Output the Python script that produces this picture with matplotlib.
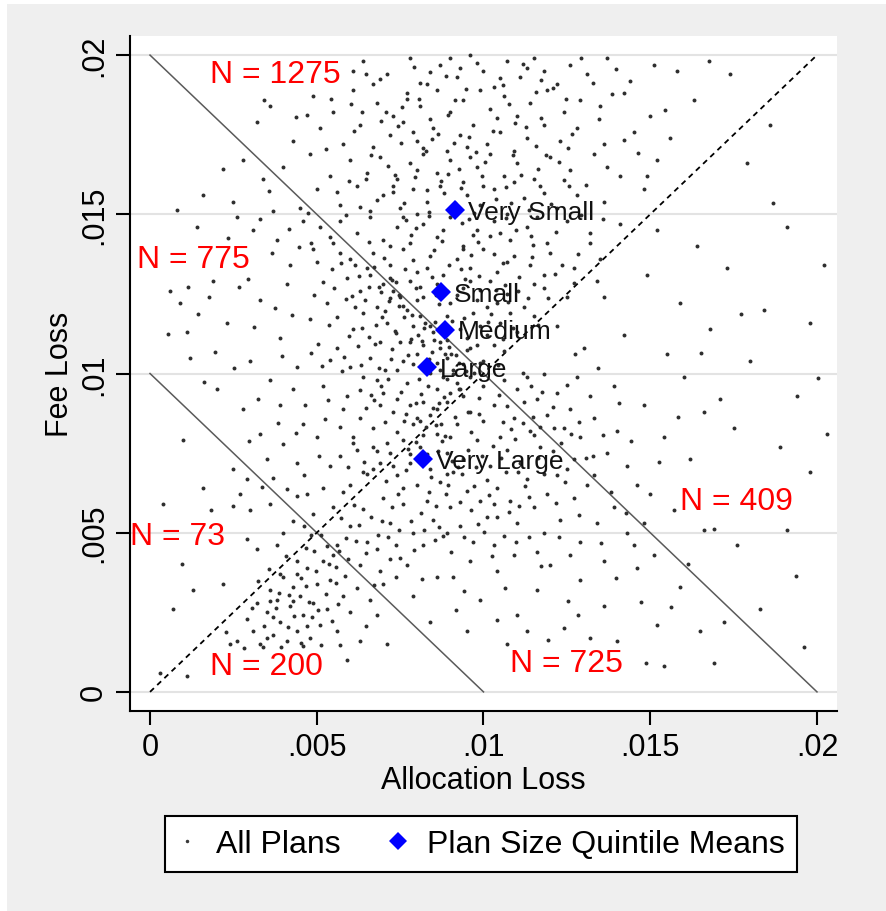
import numpy as np
import matplotlib.pyplot as plt
from matplotlib.patches import Rectangle
from matplotlib.lines import Line2D

plt.rcParams['font.family'] = ['Liberation Sans', 'DejaVu Sans']

# plan points in thousandths (x = allocation loss, y = fee loss)
# above both lines, above the 45 degree line
region_e = [(6.1,19.5),(6.7,19.1),(6.4,19.8),(7.1,19.4),(7.8,19.9),(8.3,19.1),(8.7,19.7),(9.2,19.3),(9.6,20.0),(10.0,19.5),
            (10.3,19.0),(10.7,19.8),(11.1,19.3),(11.5,19.9),(11.8,19.5),(12.2,19.1),(12.6,19.7),(13.1,19.4),(13.7,19.9),(14.4,19.2),
            (15.1,19.7),(15.8,19.5),(17.4,19.4),(9.0,19.9),(11.3,19.6),
            (3.6,18.4),(4.9,18.7),(5.5,18.2),(6.1,18.9),(6.8,18.5),(7.3,18.1),(7.7,18.8),(8.1,18.4),(8.6,18.9),(9.0,18.2),
            (9.4,18.6),(9.9,18.9),(10.2,18.3),(10.6,18.7),(11.0,18.1),(11.4,18.5),(11.9,18.9),(12.4,18.2),(12.9,18.6),(13.5,18.4),
            (14.2,18.8),(15.0,18.1),(16.3,18.6),(8.4,18.0),
            (3.2,17.9),(4.3,17.3),(5.1,17.7),(5.8,17.2),(6.3,17.8),(6.7,17.1),(7.2,17.5),(7.6,17.9),(8.0,17.3),(8.5,17.7),
            (8.9,17.0),(9.3,17.5),(9.7,17.8),(10.1,17.2),(10.5,17.6),(10.9,17.0),(11.3,17.4),(11.8,17.8),(12.3,17.3),(12.8,17.7),
            (13.6,17.2),(14.5,17.6),(15.6,17.4),(7.9,17.6),(9.5,17.1),
            (4.0,16.5),(4.8,16.9),(5.4,16.2),(6.0,16.7),(6.5,16.3),(6.9,16.8),(7.4,16.1),(7.8,16.6),(8.2,16.9),(8.6,16.3),
            (9.0,16.7),(9.4,16.0),(9.8,16.5),(10.2,16.9),(10.6,16.2),(11.0,16.6),(11.5,16.1),(12.0,16.8),(12.6,16.4),(13.3,16.9),
            (14.1,16.2),(15.2,16.7),(8.0,16.4),(9.6,16.8),(10.9,16.0),
            (5.0,15.8),(5.7,15.3),(6.2,15.9),(6.6,15.1),(7.0,15.6),(7.5,15.2),(7.9,15.8),(8.3,15.4),(8.7,15.9),(9.1,15.1),
            (9.5,15.6),(9.9,15.3),(10.3,15.8),(10.7,15.0),(11.2,15.5),(11.7,15.9),(12.2,15.2),(12.8,15.6),(13.6,15.4),(14.8,15.8),
            (8.0,15.0),(10.0,15.9),(7.3,15.9),
            (5.7,14.8),(6.2,14.4),(6.6,14.9),(7.0,14.2),(7.4,14.6),(7.8,14.1),(8.2,14.7),(8.6,14.3),(9.0,14.9),(9.4,14.0),
            (9.8,14.5),(10.3,14.8),(10.8,14.2),(11.3,14.6),(11.9,14.1),(12.5,14.8),(13.2,14.4),(14.1,14.7),(8.8,14.5),(10.5,14.4),
            (7.6,14.9),(11.6,14.9),
            (6.7,13.8),(7.2,13.4),(7.6,13.9),(8.0,13.2),(8.4,13.7),(8.8,13.1),(9.2,13.6),(9.6,13.3),(10.0,13.9),(10.4,13.2),
            (10.9,13.7),(11.4,13.4),(12.0,13.8),(12.7,13.3),(13.5,13.6),(9.4,13.9),(10.7,13.5),(8.3,13.3),(11.8,13.1),
            (7.8,12.9),(8.2,12.4),(8.6,12.8),(9.0,12.2),(9.4,12.7),(9.8,12.3),(10.2,12.9),(10.7,12.5),(11.2,12.1),(11.8,12.7),
            (12.5,12.4),(9.6,12.9),(10.4,12.2),(8.9,12.6),(11.5,12.8),
            (8.9,11.8),(9.3,11.4),(9.7,11.9),(10.1,11.2),(10.5,11.6),(11.0,11.3),(11.5,11.8),(9.9,11.5),(10.8,11.9),(9.5,11.1),
            (9.6,10.8),(10.0,10.4),(10.3,10.9),(10.6,10.7),(9.8,10.9),
            (6.37,18.22),(7.91,19.63),(10.48,19.27),(12.93,19.92),(8.06,18.61),(11.72,18.04),(9.58,17.43),(7.14,16.52),(12.41,16.08),(8.83,15.67),
            (10.19,14.31),(11.07,13.02),(9.21,12.48),(10.87,11.42),(7.43,17.78),(6.82,15.46),(9.97,16.21),(11.36,15.12),(8.52,13.89),(10.63,12.77),
            (5.28,17.06),(13.84,18.77),(7.66,13.27),(9.05,11.64),(12.18,14.43),(8.27,16.98),(10.94,17.87),(6.58,14.13),(11.94,12.36),(9.73,15.04),
            (4.72,18.12),(8.41,19.48),(10.76,18.46),(12.66,17.52),(7.29,15.71),(9.36,14.72),(11.49,14.05),(8.96,13.41),(10.21,11.87),(13.07,15.93),
            (5.96,16.04),(7.84,14.36),(9.12,17.24),(11.63,16.43),(6.13,17.61),(10.37,15.48),(8.68,12.19),(12.83,13.74),(9.89,12.62),(7.57,18.37),
            (14.63,16.92),(13.29,19.12),(6.91,19.24),(11.18,19.71),(9.47,18.92),(8.19,17.09),(10.04,16.64),(12.02,15.33),(7.02,13.63),(9.63,13.73),
            (11.02,12.58),(8.37,14.94),(10.58,13.47),(9.26,16.43),(12.47,18.61),(5.43,18.63),(6.64,16.87),(8.94,18.13),(10.89,16.86),(11.57,17.16),
            (13.46,17.98),(7.34,16.23),(9.83,14.13),(8.58,12.47),(10.31,13.76),(11.81,15.67),(6.29,15.22),(7.98,14.56),(9.44,12.96),(10.66,14.88),
            (12.91,14.97),(14.22,17.33),(8.11,19.12),(9.81,19.74),(11.58,18.83),(6.02,18.45),(7.52,17.24),(10.27,17.61),(12.27,16.65),(8.73,16.04),
            (9.16,15.37),(11.44,13.67),(10.09,12.09),(8.46,13.04),(7.19,14.02),(13.71,16.47),(5.87,14.97),(12.72,12.84),(9.52,10.73),(10.44,10.26),
            (6.48,19.41),(8.88,19.34),(12.08,18.97),(13.98,19.56),(7.71,18.63),(10.57,19.06),(9.14,18.59),(11.27,17.73),(8.64,17.52),(6.94,17.93),
            (10.68,15.86),(9.33,15.82),(11.86,16.87),(7.62,15.37),(8.31,15.77),(12.57,15.88),(9.68,14.34),(10.98,14.51),(7.88,13.57),(11.33,12.37),
            (9.41,11.73),(10.14,11.63),(8.77,14.17),(12.36,13.42),(13.19,14.09),(6.73,13.33),(5.62,15.69),(4.38,18.06),(3.41,18.6),(15.43,18.29),
            (16.76,19.81),(14.91,16.21),(13.57,14.86),(9.86,13.07),(10.72,12.24),(8.09,12.71),(11.62,11.51),(9.91,10.32),(7.27,12.93),(8.54,11.63),
            (10.36,12.63),(9.57,14.86),(8.93,16.28),(10.82,15.37),(7.96,16.18),(11.41,14.32),(9.34,13.28),(10.57,11.08),(8.36,15.08),(12.14,13.11),
            (7.67,14.83),(6.47,16.12),(11.12,16.24),(9.77,16.97),(8.47,17.36),(10.41,18.04),(12.53,17.07),(7.08,18.21),(9.29,19.58),(11.73,19.22)]

# above both lines, below the 45 degree line
region_f = [(10.6,9.8),(11.0,9.5),(11.3,9.9),(11.6,9.2),(11.9,8.7),(12.2,9.4),(12.6,8.9),(12.9,8.0),(13.3,8.6),(13.7,7.5),
            (12.4,8.3),(11.8,10.0),(12.8,9.9),(13.2,9.3),(14.0,8.2),(14.3,7.1),(14.6,6.5),(15.0,6.2),(13.9,9.6),(14.8,9.0),
            (12.2,11.5),(13.0,10.8),(13.6,12.4),(14.2,11.2),(14.9,13.1),(15.5,10.6),(15.9,12.2),(16.4,14.0),(16.8,11.4),(17.3,13.3),
            (17.9,16.6),(18.4,12.0),(19.1,14.6),(19.8,11.6),(20.2,13.4),(15.2,14.5),(13.4,12.9),(18.6,17.8),
            (15.7,5.7),(16.2,7.3),(17.1,9.2),(17.5,8.3),(18.9,7.7),(19.8,6.9),(19.1,5.1),(17.6,4.6),(18.3,2.6),(16.6,8.8),
            (15.4,8.0),(16.0,9.9),(18.0,10.4),(19.4,9.3),(20.3,8.1),(16.6,5.1),(19.6,1.4),
            (11.43,9.62),(12.07,8.96),(12.87,8.47),(13.58,8.07),(11.76,9.41),(12.51,9.63),(13.08,7.36),(14.43,7.87),(13.42,10.17),(12.74,10.61),
            (15.27,7.23),(14.06,9.07),(11.17,10.03),(15.84,8.63),(16.53,10.64),(17.73,11.87),(18.67,15.36),(20.04,9.87),(19.36,3.64),(16.91,5.12)]

# between the lines, above the 45 degree line
region_c = [(1.4,14.6),(1.6,15.6),(2.5,15.4),(3.1,14.5),(3.8,14.2),(3.7,15.1),(3.4,16.1),(2.8,16.7),(0.9,12.2),(1.9,12.9),
            (2.3,11.6),(1.2,10.5),(0.6,12.6),(4.5,15.2),(4.2,13.4),
            (3.0,10.4),(3.3,12.3),(3.6,9.8),(3.9,11.1),(4.1,12.8),(4.4,10.2),(4.6,8.4),(4.8,11.7),(5.0,13.5),(5.2,9.6),
            (5.3,12.2),(5.5,14.1),(5.6,10.8),(5.8,8.9),(5.9,13.0),(6.1,11.4),(6.2,7.6),(6.3,12.6),(6.4,9.9),(6.5,13.3),
            (4.0,7.8),(4.7,6.2),(5.4,7.1),(3.5,7.3),(2.8,8.9),
            (6.6,10.5),(6.7,8.3),(6.8,12.1),(6.9,7.2),(7.0,9.4),(7.1,11.6),(7.2,13.0),(7.3,8.8),(7.4,10.1),(7.5,12.4),
            (7.6,7.9),(7.7,9.7),(7.8,11.0),(7.9,8.4),(8.0,10.6),(8.1,11.8),(8.2,9.1),(8.3,10.2),(8.4,8.7),(8.5,11.3),
            (8.6,9.5),(8.7,10.8),(8.8,9.9),(8.9,10.5),(9.0,9.4),(9.1,10.1),(9.2,9.7),(9.4,10.3),(9.6,9.9),(6.6,13.1),
            (6.9,11.0),(7.3,12.6),(7.7,12.0),(8.0,12.3),(8.4,11.5),(6.3,8.6),(7.2,7.5),(6.8,9.8),(7.5,11.0),(8.2,10.9),
            (5.9,9.3),(6.0,10.2),(6.4,11.9),(7.0,12.8),(7.9,11.5),(8.7,11.0),(7.6,10.4),(8.9,11.05),
            (4.6,14.8),(5.1,14.6),(4.9,13.9),(5.7,13.8),(6.0,13.6),(5.4,14.3),
            (5.5,5.8),(6.0,6.5),(6.4,6.9),(5.2,6.4),(4.9,5.6),
            (2.0,9.5),(1.1,11.3),(3.9,9.0),(4.3,9.5),(5.0,8.0),(5.7,7.4),(6.1,8.0),(6.7,7.0),(7.4,9.2),(8.1,8.5),
            (8.6,8.9),(9.3,9.5),(7.8,9.0),(6.9,9.0),(4.4,7.2),(3.3,8.1),
            (6.23,10.87),(7.41,8.16),(5.87,12.34),(8.33,9.62),(6.77,11.53),(7.88,10.31),(5.34,9.17),(8.71,10.12),(6.49,8.92),(7.16,12.27),
            (4.83,10.64),(8.04,11.22),(6.94,9.61),(5.62,11.76),(7.69,8.73),(8.47,10.67),(6.08,7.81),(7.27,10.76),(5.18,12.87),(8.92,9.84),
            (4.26,11.83),(6.58,12.71),(7.53,9.43),(5.76,10.08),(8.19,8.06),(6.86,10.18),(4.64,9.02),(7.97,12.69),(6.31,9.48),(5.47,13.29),
            (3.74,12.07),(6.69,7.68),(8.57,8.37),(5.03,10.93),(7.34,11.32),(6.16,13.42),(4.47,13.96),(8.81,9.27),(5.69,8.31),(7.06,8.49),
            (3.66,13.79),(2.67,12.73),(4.91,12.48),(6.42,7.23),(7.79,7.47),(5.24,8.56),(3.97,10.56),(6.92,12.56),(8.26,11.58),(7.61,11.79),
            (2.34,14.26),(1.77,12.39),(3.12,11.47),(4.17,14.54),(2.93,12.96),(1.43,11.86),(0.82,15.12),(2.19,16.42),(3.58,15.73),(4.83,14.09),
            (5.96,11.17),(6.63,9.33),(7.22,10.47),(8.38,10.46),(7.04,11.97),(5.41,10.42),(6.37,11.42),(8.12,9.37),(7.48,12.11),(6.74,10.93),
            (5.08,7.42),(5.79,6.27),(6.52,6.83),(4.62,6.81),(7.12,7.81),(3.84,8.46),(4.37,8.14),(5.93,7.07),(6.81,7.57),(8.66,9.08),
            (2.52,10.17),(1.62,9.74),(3.23,9.21),(2.97,7.87),(3.68,6.72),(4.12,6.38),(0.54,11.24),(1.94,10.66),(2.61,14.92),(1.13,12.72),
            (9.27,10.34),(9.08,9.98),(8.97,10.83),(7.38,12.88),(6.27,13.07),(5.53,12.68),(4.73,15.04),(3.29,14.86),(6.06,12.43),(7.86,11.84),
            (6.14,12.08),(7.37,11.26),(8.23,11.43),(6.88,12.71),(7.73,10.58),(8.62,10.33),(5.74,13.46),(9.18,10.57),(7.05,10.12),(6.46,12.32),
            (8.41,10.02),(7.59,12.12),(5.38,11.53),(9.47,10.08),(6.71,9.16),(8.08,9.82),(7.21,12.37),(5.83,10.51),(8.86,10.62),(6.97,11.79),
            (7.84,11.07),(9.72,10.01),(6.34,10.26),(8.51,11.06),(5.17,10.23),(7.46,12.46),(9.03,10.61),(6.57,11.14),(8.17,11.01),(7.13,9.83)]

# between the lines, below the 45 degree line
region_d = [(6.8,4.5),(7.0,6.1),(7.2,5.3),(7.4,6.8),(7.5,4.2),(7.6,5.9),(7.8,7.2),(7.9,5.0),(8.0,6.5),(8.1,7.7),
            (8.2,4.6),(8.3,6.0),(8.4,7.0),(8.5,5.4),(8.6,8.1),(8.7,6.6),(8.8,4.9),(8.9,7.5),(9.0,5.8),(9.1,6.9),
            (9.2,8.4),(9.3,5.2),(9.4,7.3),(9.5,6.3),(9.6,8.8),(9.7,4.7),(9.8,7.9),(9.9,6.0),(10.0,8.5),(10.1,5.5),
            (10.2,7.1),(10.3,9.0),(10.4,6.4),(10.5,8.0),(10.6,4.9),(10.7,7.6),(10.8,6.0),(10.9,8.6),(11.0,5.3),(11.1,7.2),
            (11.2,9.1),(11.3,6.7),(11.4,8.2),(11.6,4.4),(11.7,7.7),(11.9,6.2),(12.1,8.3),(12.3,5.4),(12.5,7.0),(12.7,6.1),
            (12.9,4.7),(13.1,6.5),(13.4,5.3),(13.6,4.1),(8.0,8.6),(8.9,9.1),(9.4,9.3),(7.3,7.1),(10.0,9.6),(9.0,8.0),
            (5.6,4.6),(6.3,4.0),(6.0,5.2),(7.0,3.4),(7.9,3.0),(8.4,2.2),(9.1,3.6),(9.9,2.9),(10.4,3.8),(11.0,2.4),
            (11.6,3.2),(12.4,2.0),(12.9,3.5),(13.6,2.7),(14.0,1.6),(14.6,3.9),(15.1,4.3),(15.9,3.3),(16.5,1.9),(17.2,2.2),
            (16.9,0.9),(13.2,1.7),(11.3,1.9),(15.4,0.8),(12.0,4.0),(14.3,5.0),(15.2,2.1),(10.7,1.5),(9.5,1.9),(6.5,4.7),
            (14.5,4.6),(13.9,5.8),(14.8,5.3),(12.6,4.3),(13.3,6.8),
            (9.6,4.1),(10.9,4.3),(8.6,3.6),(11.5,5.8),(12.2,6.8),(7.7,4.0),(6.9,3.8),(8.9,5.0),(10.3,5.9),(11.8,5.0),
            (8.13,5.62),(9.37,6.83),(10.52,7.34),(7.58,6.41),(8.76,7.89),(11.24,6.47),(9.83,5.27),(7.92,4.46),(10.83,8.27),(9.16,8.63),
            (8.42,6.74),(11.63,7.36),(7.27,5.82),(10.17,6.19),(12.43,6.58),(9.54,7.61),(8.67,5.19),(11.06,5.83),(7.74,7.63),(10.66,6.92),
            (12.08,7.57),(9.02,4.39),(8.29,8.32),(11.47,8.64),(10.32,4.61),(7.46,5.07),(9.71,6.47),(8.87,6.21),(12.86,5.57),(11.82,6.83),
            (13.27,7.42),(10.94,7.94),(9.23,7.07),(8.54,4.78),(7.13,4.87),(12.61,8.11),(10.02,5.03),(11.37,4.86),(9.62,8.17),(8.06,7.27),
            (13.82,6.27),(14.27,5.63),(12.27,4.87),(13.52,4.68),(11.71,3.94),(10.63,3.27),(9.41,3.17),(8.17,3.56),(7.37,3.61),(6.72,3.37),
            (14.71,2.83),(13.97,3.57),(12.82,2.43),(11.92,1.63),(10.41,2.27),(9.17,2.57),(15.62,2.68),(16.14,4.02),(14.86,0.92),(12.53,2.84),
            (7.61,8.51),(8.48,8.92),(9.88,9.23),(10.71,8.97),(11.52,8.06),(7.97,9.08),(9.27,9.52),(8.31,7.47),(7.07,6.63),(6.63,5.49),
            (6.18,4.73),(5.87,4.83),(6.38,5.74),(6.97,5.36),(10.46,9.33),(11.17,8.46),(12.32,7.82),(9.96,7.42),(8.94,6.51),(10.39,5.48),
            (8.37,6.28),(9.62,5.71),(10.28,7.72),(7.83,5.38),(9.06,7.24),(11.37,6.12),(8.72,8.42),(10.77,5.64),(9.42,4.86),(7.67,6.97),
            (10.09,6.67),(8.58,5.83),(11.68,8.32),(9.87,8.72),(7.38,4.62),(12.18,5.93),(8.91,6.84),(10.58,8.48),(9.31,5.96),(11.03,6.92),
            (7.97,7.86),(8.22,5.07),(9.77,7.07),(10.96,4.72),(12.71,7.31),(8.64,7.57),(9.53,8.78),(7.43,6.22),(8.84,8.04),(10.24,4.28),
            (5.12,4.94),(5.74,5.47),(6.12,5.87),(5.67,4.43),(6.27,5.23),(5.57,3.92),(6.48,4.37),(7.19,4.16),(6.83,4.92),(5.95,4.18)]

# below both lines, below the 45 degree line
region_b = [(2.6,1.6),(2.9,2.3),(3.1,1.9),(3.2,2.8),(3.4,1.4),(3.5,2.5),(3.6,3.2),(3.7,1.8),(3.8,2.9),(3.9,2.2),
            (4.0,3.6),(4.1,1.6),(4.2,2.7),(4.3,3.3),(4.4,1.9),(4.5,3.0),(4.6,2.4),(4.7,3.9),(4.8,1.7),(4.9,2.8),
            (5.0,3.4),(5.1,2.1),(5.2,4.1),(5.3,2.6),(5.4,3.5),(5.6,1.9),(5.8,3.0),(6.0,2.5),(6.3,1.6),(6.6,2.9),
            (4.4,4.1),(3.9,3.7),(5.5,4.3),(2.4,1.5),(7.1,1.5),(6.8,2.4),(5.9,1.0),(4.6,1.45),(3.3,1.5),(1.1,0.5),
            (3.42,2.07),(4.18,3.04),(4.87,2.36),(3.77,2.63),(5.27,3.07),(4.52,1.53),(3.56,3.87),(4.97,3.81),(5.63,2.77),(4.33,2.38),
            (3.07,2.62),(5.84,3.63),(4.68,3.32),(3.93,1.42),(5.46,2.23),(4.07,4.27),(2.83,1.38),(6.21,3.27),(5.13,1.48),(3.68,2.36),
            (4.42,3.71),(4.93,4.43),(5.71,1.48),(2.27,1.87),(6.47,2.07),(3.24,3.48),(4.76,2.83),(4.13,2.04),(5.36,4.02),(3.51,1.68),
            (4.67,4.53),(4.83,4.92),(4.53,3.57),(3.87,3.12),(5.57,3.42),(4.28,2.84),(5.04,2.57),(3.61,2.87),(4.72,2.07),(5.31,4.58)]

# below both lines, above the 45 degree line
region_a = [(0.3,0.6),(0.7,2.6),(1.3,3.2),(2.9,4.8),(1.6,6.4),(2.5,7.0),(3.0,5.7),(2.2,3.4),(3.2,4.5),(3.6,5.9),
            (0.4,5.9),(2.7,6.2),(3.8,4.6),(1.0,7.9),(1.83,5.72),(2.91,6.68),(0.97,4.01),(3.37,6.43),(2.48,5.83),
            (4.28,5.37),(4.41,6.16),(3.98,4.98),(4.62,5.21)]

# plan size quintile means
quintile_names = ['Very Small', 'Small', 'Medium', 'Large', 'Very Large']
quintile_x = [0.00915, 0.00873, 0.00885, 0.00831, 0.00819]
quintile_y = [0.01513, 0.01255, 0.01138, 0.01019, 0.00730]

# region counts and where they are written
count_labels = ['N = 1275', 'N = 775', 'N = 73', 'N = 200', 'N = 725', 'N = 409']
count_x = [0.0018, -0.0004, -0.0006, 0.0018, 0.0108, 0.0159]
count_y = [0.0194, 0.0136, 0.0049, 0.0008, 0.0009, 0.0060]

tick_vals = [0, 0.005, 0.01, 0.015, 0.02]
tick_labels = ['0', '.005', '.01', '.015', '.02']

all_pts = region_e + region_f + region_c + region_d + region_b + region_a
plan_x = np.array([p[0] for p in all_pts]) / 1000
plan_y = np.array([p[1] for p in all_pts]) / 1000

fig = plt.figure(figsize=(8.87, 9.12), dpi=100, facecolor='white')
fig.patches.append(Rectangle((7 / 887, 0), 1, 1 - 5 / 912, transform=fig.transFigure,
                             facecolor='#efefef', edgecolor='none', zorder=-10))
ax = fig.add_axes([130 / 887, 1 - 712 / 912, 707 / 887, 675 / 912])
ax.set_facecolor('white')

ax.set_xlim(-0.0006, 0.0206)
ax.set_ylim(-0.0006, 0.0206)

# grid
for t in tick_vals:
    ax.axhline(t, color='#e3e3e3', lw=1.5, zorder=1)

# reference lines
ax.plot([0, 0.01], [0.01, 0], color='#5a5a5a', lw=1.1, zorder=2)
ax.plot([0, 0.02], [0.02, 0], color='#5a5a5a', lw=1.1, zorder=2)
ax.plot([0, 0.02], [0, 0.02], color='black', lw=1.3, ls=(0, (3, 2.5)), zorder=2)

ax.scatter(plan_x, plan_y, s=8, c='#2e2e2e', linewidths=0, zorder=3)
ax.plot(quintile_x, quintile_y, 'D', color='blue', ms=10, mew=0, zorder=4)
for name, qx, qy in zip(quintile_names, quintile_x, quintile_y):
    ax.annotate(name, (qx, qy), xytext=(9, -1), textcoords='offset points',
                fontsize=19, va='center', ha='left', color='#111111', zorder=5)

for lab, cx, cy in zip(count_labels, count_x, count_y):
    ax.text(cx, cy, lab, color='red', fontsize=23, va='center', ha='left', zorder=5)

ax.set_xticks(tick_vals)
ax.set_xticklabels(tick_labels)
ax.set_yticks(tick_vals)
ax.set_yticklabels(tick_labels, rotation=90, va='center')
ax.tick_params(direction='out', length=10, width=1.5, labelsize=22, pad=5)
for s in ['top', 'right']:
    ax.spines[s].set_visible(False)
for s in ['left', 'bottom']:
    ax.spines[s].set_linewidth(1.5)

ax.set_xlabel('Allocation Loss', fontsize=22, labelpad=2)
ax.set_ylabel('Fee Loss', fontsize=22, labelpad=3)

handles = [Line2D([], [], marker='.', ls='none', color='#3a3a3a', ms=3),
           Line2D([], [], marker='D', ls='none', color='blue', ms=9, mew=0)]
leg = fig.legend(handles, ['All Plans', 'Plan Size Quintile Means'], ncol=2,
                 loc='center', bbox_to_anchor=(481 / 887, 1 - 845 / 912),
                 fontsize=23, frameon=True, fancybox=False, edgecolor='black',
                 facecolor='white', framealpha=1,
                 handletextpad=0.6, columnspacing=1.5, borderpad=0.4, handlelength=0.6)
leg.get_frame().set_linewidth(1.5)

fig.savefig('out.png', dpi=100, facecolor=fig.get_facecolor())
